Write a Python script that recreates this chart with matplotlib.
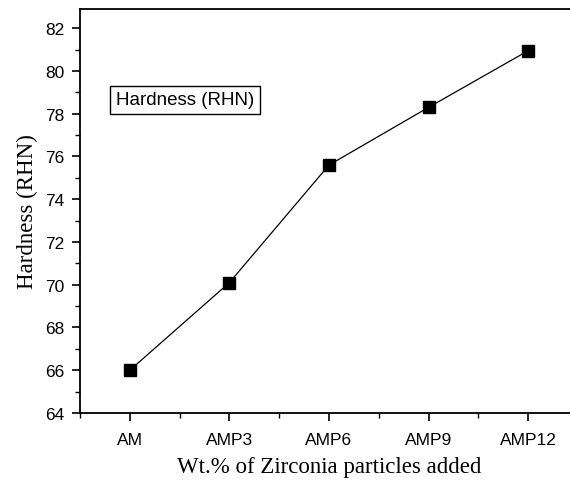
import matplotlib
matplotlib.use("Agg")
import matplotlib.pyplot as plt
from matplotlib.ticker import MultipleLocator, FixedLocator

# datos
muestras = ["AM", "AMP3", "AMP6", "AMP9", "AMP12"]
dureza = [66.0, 70.1, 75.6, 78.3, 80.95]

fig = plt.figure(figsize=(5.70, 4.81), dpi=100)
W, H = 570, 481
# ejes en pixeles: izq 80, der 578, arriba 10, abajo 414
ax = fig.add_axes([80 / W, 1 - 414 / H, (578 - 80) / W, (414 - 10) / H])

x = list(range(len(muestras)))
ax.plot(x, dureza, color="black", lw=0.9, marker="s", markersize=8.5,
        markerfacecolor="black", markeredgecolor="black")

ax.set_xlim(-0.5, 4.5)
ax.set_ylim(64, 82.9)
ax.set_xticks(x)
ax.set_xticklabels(muestras)
ax.xaxis.set_minor_locator(FixedLocator([-0.5, 0.5, 1.5, 2.5, 3.5]))
ax.yaxis.set_major_locator(MultipleLocator(2))
ax.yaxis.set_minor_locator(MultipleLocator(1))

for lab in ax.get_xticklabels() + ax.get_yticklabels():
    lab.set_family("Liberation Sans")
    lab.set_fontsize(12.5)

ax.tick_params(which="major", direction="out", length=6, width=1.2, pad=5)
ax.tick_params(axis="x", which="major", pad=8)
ax.tick_params(which="minor", direction="out", length=3.5, width=1.0)
for s in ax.spines.values():
    s.set_linewidth(1.3)

ax.set_xlabel("Wt.% of Zirconia particles added", family="Liberation Serif",
              fontsize=16.5, labelpad=6)
ax.set_ylabel("Hardness (RHN)", family="Liberation Serif", fontsize=16.5,
              labelpad=5)

# recuadro de leyenda (solo texto)
ax.text(0.072, 0.775, "Hardness (RHN)", transform=ax.transAxes,
        family="Liberation Sans", fontsize=13.5, va="center", ha="left",
        bbox=dict(boxstyle="square,pad=0.3", fc="white", ec="black", lw=1.0))

fig.savefig("out.png", dpi=100)
